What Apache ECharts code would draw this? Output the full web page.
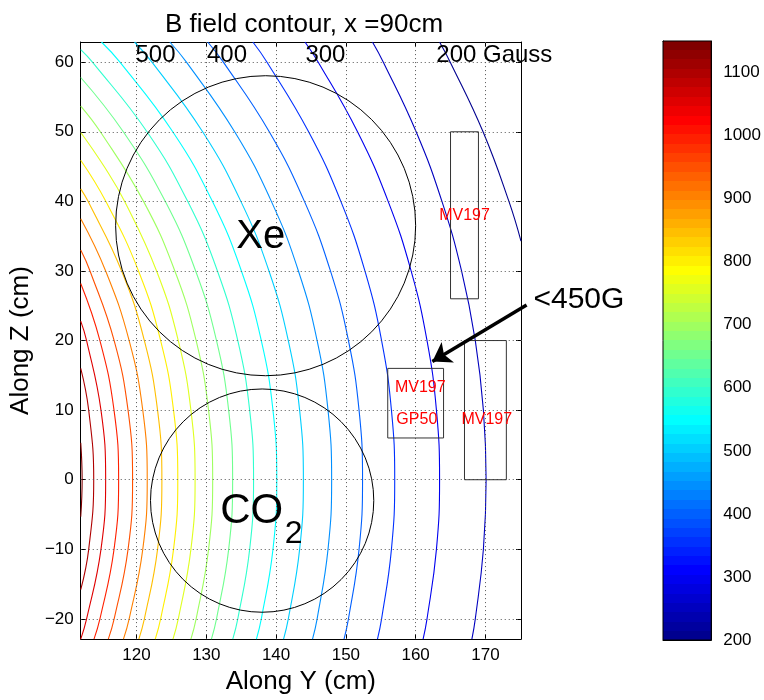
<!DOCTYPE html>
<html><head><meta charset="utf-8">
<script src="https://cdn.jsdelivr.net/npm/echarts@6/dist/echarts.min.js"></script>
<style>html,body{margin:0;padding:0;background:#fff}#c{width:764px;height:700px}</style>
</head><body><div id="c"></div>
<script>
// ---------------- data ----------------
const xTicks = [120, 130, 140, 150, 160, 170];
const yTicks = [-20, -10, 0, 10, 20, 30, 40, 50, 60];
const cbTicks = [200, 300, 400, 500, 600, 700, 800, 900, 1000, 1100];
const levels = [200, 250, 300, 350, 400, 450, 500, 550, 600, 650, 700, 750, 800, 850, 900, 950, 1000, 1050, 1100, 1150];

// contour points [Along Y, Along Z]
const c1150 = [[112,5.3],[112.2,0],[112,-5.3]];
const c1100 = [[112,16],[113.14,10],[113.86,0],[113.14,-10],[112,-15.8]];
const c1050 = [[112,22.8],[112.84,20],[114.9,10],[115.57,0],[114.9,-10],[112.84,-20],[112,-22.9]];
const c1000 = [[112,28.2],[114.75,20],[116.77,10],[117.43,0],[116.77,-10],[114.75,-20],[113.9,-22.9]];
const c950 = [[112,33],[113.33,30],[116.79,20],[118.78,10],[119.43,0],[118.78,-10],[116.79,-20],[115.95,-22.9]];
const c900 = [[112,37.5],[115.57,30],[118.94,20],[120.89,10],[121.53,0],[120.89,-10],[118.94,-20],[118.12,-22.9]];
const c850 = [[112,41.8],[113.05,40],[117.86,30],[121.12,20],[123.01,10],[123.63,0],[123.01,-10],[121.12,-20],[120.33,-22.9]];
const c800 = [[112,45.9],[115.59,40],[120.28,30],[123.45,20],[125.3,10],[125.91,0],[125.3,-10],[123.45,-20],[122.68,-22.9]];
const c750 = [[112,49.9],[115.36,45],[118.28,40],[122.87,30],[125.98,20],[127.79,10],[128.39,0],[127.79,-10],[125.98,-20],[125.22,-22.9]];
const c700 = [[112,53.7],[114.81,50],[121.0,40],[125.49,30],[128.54,20],[130.32,10],[130.91,0],[130.32,-10],[128.54,-20],[127.79,-22.9]];
const c650 = [[112,57.8],[118.1,50],[124.11,40],[128.47,30],[131.46,20],[133.2,10],[133.77,0],[133.2,-10],[131.46,-20],[130.73,-22.9]];
const c600 = [[112,61.8],[113.68,60],[121.5,50],[127.33,40],[131.59,30],[134.51,20],[136.21,10],[136.77,0],[136.21,-10],[134.51,-20],[133.79,-22.9]];
const c550 = [[114.97,62.9],[117.62,60],[125.19,50],[130.87,40],[135.03,30],[137.88,20],[139.55,10],[140.1,0],[139.55,-10],[137.88,-20],[137.18,-22.9]];
const c500 = [[119.71,62.9],[122.21,60],[129.47,50],[134.95,40],[138.98,30],[141.75,20],[143.37,10],[143.91,0],[143.37,-10],[141.75,-20],[141.07,-22.9]];
const c450 = [[124.77,62.9],[127.15,60],[134.06,50],[139.32,40],[143.2,30],[145.88,20],[147.44,10],[147.96,0],[147.44,-10],[145.88,-20],[145.22,-22.9]];
const c400 = [[130.2,62.9],[132.44,60],[139.02,50],[144.06,40],[147.79,30],[150.37,20],[151.89,10],[152.39,0],[151.89,-10],[150.37,-20],[149.74,-22.9]];
const c350 = [[136.67,62.9],[138.7,60],[144.66,50],[149.28,40],[152.73,30],[155.12,20],[156.53,10],[157.0,0],[156.53,-10],[155.12,-20],[154.53,-22.9]];
const c300 = [[144.14,62.9],[146.04,60],[151.67,50],[156.06,40],[159.35,30],[161.63,20],[162.98,10],[163.43,0],[162.98,-10],[161.63,-20],[161.07,-22.9]];
const c250 = [[153.81,62.9],[155.37,60],[160.07,50],[163.77,40],[166.58,30],[168.55,20],[169.71,10],[170.1,0],[169.71,-10],[168.55,-20],[168.06,-22.9]];
const c200 = [[163.43,62.9],[164.96,60],[169.66,50],[173.37,40],[175.1,34.3]];

// circles [centre Y, centre Z, radius]
const circles = [[138.5, 36.5, 21.5], [138, -3, 16]];
// rectangles [Y1, Y2, Z1, Z2]
const rects = [[165, 169, 26, 50], [156, 164, 6, 16], [167, 173, 0, 20]];
// red device labels
const redLabelPos = [[167, 38], [160.67, 13.3], [160.17, 8.6], [170.2, 8.6]];
const redLabelText = ['MV197', 'MV197', 'GP50', 'MV197'];
// contour value labels along the top
const topLabelPos = [[119.85, 61.0], [130.1, 61.0], [144.2, 61.0], [162.96, 61.0]];
const topLabelText = ['500', '400', '300', '200 Gauss'];
// gas labels
const xeLabel = [137.8, 34.9];
const co2Label = [136.5, -4.5];
// arrow and its note
const arrowCoords = [[175.9, 25.1], [162.4, 17.0]];
const noteLabel = [183.4, 25.8];
const noteText = '<450G';
// colour limits
const cLim = [200, 1150];

// ---------------- style ----------------
const FONT = '"Liberation Sans", Arial, Helvetica, sans-serif';
function u16(k) { if (k < 1 || k > 47) return 0; if (k <= 16) return k / 16; if (k <= 31) return 1; return (48 - k) / 16; }
function jet64(i) { // i = 1..64 (MATLAB jet(64))
  const r = u16(i - 24), g = u16(i - 8), b = u16(i + 8);
  return 'rgb(' + Math.round(r * 255) + ',' + Math.round(g * 255) + ',' + Math.round(b * 255) + ')';
}
function levelColor(v) {
  let idx = Math.floor((v - cLim[0]) / (cLim[1] - cLim[0]) * 64) + 1;
  idx = Math.max(1, Math.min(64, idx));
  return jet64(idx);
}
const cbStops = [];
for (let i = 1; i <= 64; i++) {
  cbStops.push({ offset: (i - 1) / 64, color: jet64(i) });
  cbStops.push({ offset: i / 64, color: jet64(i) });
}
function fmtNum(v) { return String(v).replace('-', '\u2212'); }

const contourMap = {200:c200,250:c250,300:c300,350:c350,400:c400,450:c450,500:c500,550:c550,600:c600,650:c650,700:c700,750:c750,800:c800,850:c850,900:c900,950:c950,1000:c1000,1050:c1050,1100:c1100,1150:c1150};

const chart = echarts.init(document.getElementById('c'), null, { renderer: 'canvas', width: 764, height: 700 });

const series = [];
levels.forEach(function (lv, k) {
  const s = {
    type: 'line', xAxisIndex: 0, yAxisIndex: 0, data: contourMap[lv],
    showSymbol: false, symbol: 'none', smooth: 0.45, clip: true, silent: true,
    lineStyle: { color: levelColor(lv), width: 1.1 }, z: 2
  };
  if (k === 0) {
    s.markLine = {
      silent: true, symbol: ['none', 'none'], label: { show: false }, animation: false,
      lineStyle: { type: [1, 3], color: '#555', width: 1 },
      data: xTicks.map(function (v) { return { xAxis: v }; }).concat(yTicks.map(function (v) { return { yAxis: v }; }))
    };
  }
  series.push(s);
});

series.push({
  type: 'custom', xAxisIndex: 0, yAxisIndex: 0, data: circles, z: 5, silent: true,
  renderItem: function (params, api) {
    const c = api.coord([api.value(0), api.value(1)]);
    const r = api.size([api.value(2), 0])[0];
    return { type: 'circle', shape: { cx: c[0], cy: c[1], r: r }, style: { fill: 'none', stroke: '#000', lineWidth: 1 } };
  }
});
series.push({
  type: 'custom', xAxisIndex: 0, yAxisIndex: 0, data: rects, z: 5, silent: true,
  renderItem: function (params, api) {
    const p1 = api.coord([api.value(0), api.value(3)]);
    const p2 = api.coord([api.value(1), api.value(2)]);
    return { type: 'rect', shape: { x: p1[0], y: p1[1], width: p2[0] - p1[0], height: p2[1] - p1[1] }, style: { fill: 'none', stroke: '#333', lineWidth: 1 } };
  }
});
series.push({
  type: 'custom', xAxisIndex: 0, yAxisIndex: 0, data: redLabelPos, z: 6, silent: true,
  renderItem: function (params, api) {
    const c = api.coord([api.value(0), api.value(1)]);
    return { type: 'text', x: c[0], y: c[1], style: { text: redLabelText[params.dataIndex], fill: '#ff0000', fontSize: 16, fontFamily: FONT, align: 'center', verticalAlign: 'middle' } };
  }
});
series.push({
  type: 'custom', xAxisIndex: 0, yAxisIndex: 0, data: topLabelPos, z: 6, silent: true,
  renderItem: function (params, api) {
    const c = api.coord([api.value(0), api.value(1)]);
    return { type: 'text', x: c[0], y: c[1], style: { text: topLabelText[params.dataIndex], fill: '#000', fontSize: 24, fontFamily: FONT, align: 'left', verticalAlign: 'middle' } };
  }
});
series.push({
  type: 'custom', xAxisIndex: 0, yAxisIndex: 0, data: [xeLabel], z: 6, silent: true,
  renderItem: function (params, api) {
    const c = api.coord([api.value(0), api.value(1)]);
    return { type: 'text', x: c[0], y: c[1], style: { text: 'Xe', fill: '#000', fontSize: 40, fontFamily: FONT, align: 'center', verticalAlign: 'middle' } };
  }
});
series.push({
  type: 'custom', xAxisIndex: 0, yAxisIndex: 0, data: [co2Label], z: 6, silent: true,
  renderItem: function (params, api) {
    const c = api.coord([api.value(0), api.value(1)]);
    return { type: 'group', children: [
      { type: 'text', x: c[0], y: c[1], style: { text: 'CO', fill: '#000', fontSize: 42, fontFamily: FONT, align: 'center', verticalAlign: 'middle' } },
      { type: 'text', x: c[0] + 33, y: c[1] + 23, style: { text: '2', fill: '#000', fontSize: 32, fontFamily: FONT, align: 'left', verticalAlign: 'middle' } }
    ] };
  }
});
series.push({
  type: 'custom', xAxisIndex: 0, yAxisIndex: 0, data: [noteLabel], z: 6, silent: true, clip: false,
  renderItem: function (params, api) {
    const c = api.coord([api.value(0), api.value(1)]);
    return { type: 'text', x: c[0], y: c[1], style: { text: noteText, fill: '#000', fontSize: 30, fontFamily: FONT, align: 'center', verticalAlign: 'middle' } };
  }
});
series.push({
  type: 'lines', coordinateSystem: 'cartesian2d', xAxisIndex: 0, yAxisIndex: 0, clip: false, z: 7, silent: true,
  symbol: ['none', 'arrow'], symbolSize: [14, 18],
  lineStyle: { color: '#000', width: 3.5, opacity: 1 },
  data: [{ coords: arrowCoords }]
});
// colour bar
series.push({
  type: 'custom', xAxisIndex: 2, yAxisIndex: 2, data: [[0, cLim[0], 1, cLim[1]]], z: 2, silent: true,
  renderItem: function (params, api) {
    const p1 = api.coord([api.value(0), api.value(3)]);
    const p2 = api.coord([api.value(2), api.value(1)]);
    return { type: 'rect', shape: { x: p1[0], y: p1[1], width: p2[0] - p1[0], height: p2[1] - p1[1] },
      style: { fill: new echarts.graphic.LinearGradient(0, 1, 0, 0, cbStops), stroke: '#000', lineWidth: 1 } };
  }
});

const tickLbl = { fontFamily: FONT, fontSize: 17, color: '#000', formatter: fmtNum };
const axLine = { show: true, onZero: false, lineStyle: { color: '#000', width: 1 } };

const option = {
  animation: false,
  backgroundColor: '#fff',
  title: { text: 'B field contour, x =90cm', left: 299, top: 7, textAlign: 'center',
    textStyle: { fontFamily: FONT, fontSize: 26, fontWeight: 'normal', color: '#000' } },
  grid: [
    { left: 79, top: 42, width: 442, height: 601 },
    { left: 663, top: 41, width: 58, height: 599 }
  ],
  xAxis: [
    { gridIndex: 0, type: 'value', min: 112, max: 175.1, position: 'bottom',
      axisLine: axLine, splitLine: { show: false },
      axisTick: { show: true, inside: true, length: 5, customValues: xTicks, lineStyle: { color: '#000' } },
      axisLabel: Object.assign({ show: true, margin: 8, customValues: xTicks }, tickLbl),
      name: 'Along Y (cm)', nameLocation: 'middle', nameGap: 25,
      nameTextStyle: { fontFamily: FONT, fontSize: 26, color: '#000' } },
    { gridIndex: 0, type: 'value', min: 112, max: 175.1, position: 'top',
      axisLine: axLine, splitLine: { show: false },
      axisTick: { show: true, inside: true, length: 5, customValues: xTicks, lineStyle: { color: '#000' } },
      axisLabel: { show: false } },
    { gridIndex: 1, type: 'value', min: 0, max: 1, position: 'bottom',
      axisLine: axLine, splitLine: { show: false }, axisTick: { show: false }, axisLabel: { show: false } },
    { gridIndex: 1, type: 'value', min: 0, max: 1, position: 'top',
      axisLine: axLine, splitLine: { show: false }, axisTick: { show: false }, axisLabel: { show: false } }
  ],
  yAxis: [
    { gridIndex: 0, type: 'value', min: -22.9, max: 62.9, position: 'left',
      axisLine: axLine, splitLine: { show: false },
      axisTick: { show: true, inside: true, length: 5, customValues: yTicks, lineStyle: { color: '#000' } },
      axisLabel: Object.assign({ show: true, margin: 7, customValues: yTicks }, tickLbl),
      name: 'Along Z (cm)', nameLocation: 'middle', nameGap: 44, nameRotate: 90,
      nameTextStyle: { fontFamily: FONT, fontSize: 26, color: '#000' } },
    { gridIndex: 0, type: 'value', min: -22.9, max: 62.9, position: 'right',
      axisLine: axLine, splitLine: { show: false },
      axisTick: { show: true, inside: true, length: 5, customValues: yTicks, lineStyle: { color: '#000' } },
      axisLabel: { show: false } },
    { gridIndex: 1, type: 'value', min: cLim[0], max: cLim[1], position: 'left',
      axisLine: axLine, splitLine: { show: false },
      axisTick: { show: true, inside: true, length: 5, customValues: cbTicks, lineStyle: { color: '#000' } },
      axisLabel: { show: false } },
    { gridIndex: 1, type: 'value', min: cLim[0], max: cLim[1], position: 'right',
      axisLine: axLine, splitLine: { show: false },
      axisTick: { show: true, inside: true, length: 5, customValues: cbTicks, lineStyle: { color: '#000' } },
      axisLabel: Object.assign({ show: true, margin: 12, customValues: cbTicks }, tickLbl) }
  ],
  series: series
};
chart.setOption(option);
</script>
</body></html>
